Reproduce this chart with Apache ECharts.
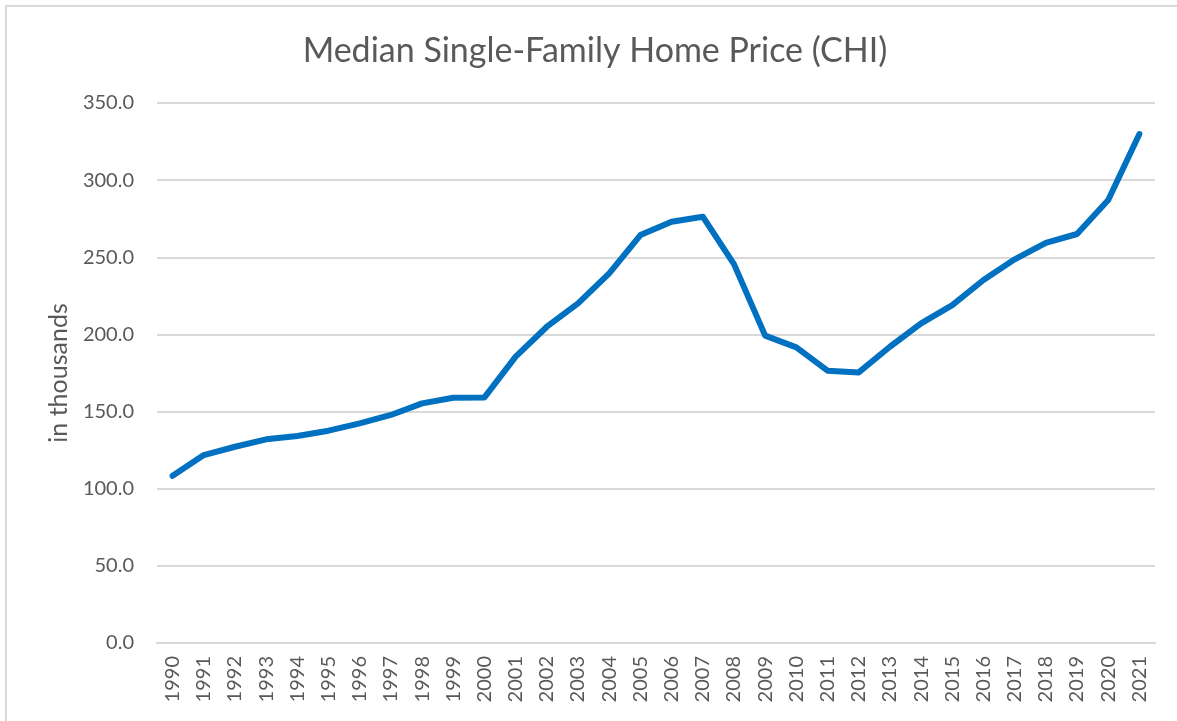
<!DOCTYPE html>
<html>
<head>
<meta charset="utf-8">
<script src="https://cdn.jsdelivr.net/npm/echarts@6/dist/echarts.min.js"></script>
<style>
  html, body { margin: 0; padding: 0; background: #fff; overflow: hidden; }
  #chart { position: absolute; left: 5px; top: 5px; width: 1180px; height: 725px; border: 2px solid #d9d9d9; box-sizing: border-box; }
</style>
</head>
<body>
<div id="chart"></div>
<script>
// years on the category axis
var years = ['1990', '1991', '1992', '1993', '1994', '1995', '1996', '1997', '1998', '1999',
  '2000', '2001', '2002', '2003', '2004', '2005', '2006', '2007', '2008', '2009',
  '2010', '2011', '2012', '2013', '2014', '2015', '2016', '2017', '2018', '2019',
  '2020', '2021']
// median price, in thousands
var prices = [108.4, 121.8, 127.2, 132.0, 134.2, 137.6, 142.3, 147.8, 155.3, 159.0,
  159.2, 185.6, 205.0, 220.1, 239.6, 264.4, 273.0, 276.3, 245.6, 199.2,
  191.6, 176.5, 175.4, 192.0, 207.2, 219.0, 235.3, 248.7, 259.4, 265.1,
  287.1, 329.9]

var font = 'Lato, "Open Sans", sans-serif'
var myChart = echarts.init(document.getElementById('chart'))
myChart.setOption({
  animation: false,
  title: {
    text: 'Median Single-Family Home Price (CHI)',
    left: 590 - 7,
    textAlign: 'center',
    top: 22,
    textStyle: { fontFamily: font, fontSize: 34, fontWeight: 'normal', color: '#595959' }
  },
  // plot area: x 157..1155, y 103..643 in the page
  grid: { left: 150, right: 28, top: 96, bottom: 85 },
  xAxis: {
    type: 'category',
    boundaryGap: true,
    data: years,
    axisLine: { lineStyle: { color: '#d9d9d9', width: 2 } },
    axisTick: { show: false },
    axisLabel: { rotate: 90, fontFamily: font, fontSize: 20, color: '#595959', margin: 13 }
  },
  yAxis: {
    type: 'value',
    min: 0,
    max: 350,
    interval: 50,
    name: 'in thousands',
    nameLocation: 'middle',
    nameGap: 86,
    nameTextStyle: { fontFamily: font, fontSize: 25, color: '#595959' },
    axisLine: { show: false },
    axisTick: { show: false },
    splitLine: { lineStyle: { color: '#d9d9d9', width: 2 } },
    axisLabel: {
      fontFamily: font, fontSize: 20, color: '#595959', margin: 23,
      formatter: function (v) { return v.toFixed(1) }
    }
  },
  series: [
    {
      name: 'Price',
      type: 'line',
      data: prices,
      symbol: 'none',
      lineStyle: { color: '#0070c0', width: 6, cap: 'round', join: 'round' },
      itemStyle: { color: '#0070c0' }
    }
  ]
})
</script>
</body>
</html>
